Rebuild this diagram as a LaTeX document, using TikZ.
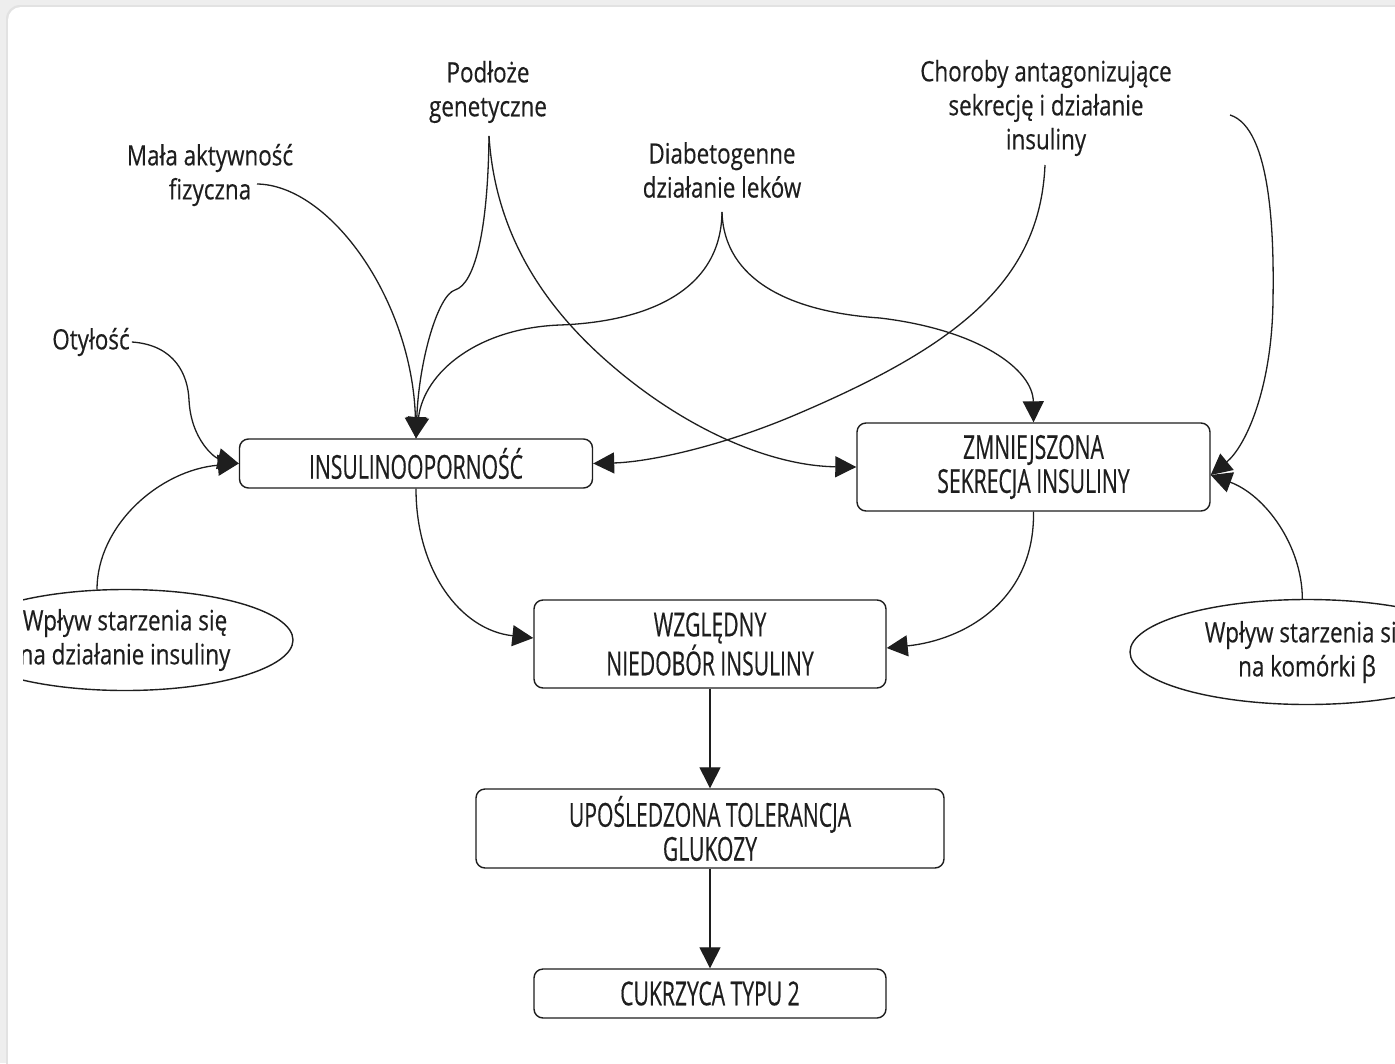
\documentclass[tikz,border=0pt]{standalone}
\usepackage{fontspec}
\setmainfont[FakeStretch=0.64,FakeBold=0.35]{Open Sans}
\newfontfamily\labfont[FakeStretch=0.8,FakeBold=0.35]{Open Sans}
\usetikzlibrary{arrows.meta,shapes.geometric,calc}
\definecolor{bggray}{RGB}{238,238,238}
\definecolor{rimgray}{RGB}{226,226,226}
\definecolor{ink}{RGB}{30,30,30}
\begin{document}
\begin{tikzpicture}[x=1pt,y=-1pt,
  conn/.style={line width=1.3pt, draw=ink, -{Triangle[length=21pt,width=21pt]}},
  box/.style={draw=ink, line width=1.4pt, rounded corners=9pt, fill=white, align=center,
              font=\fontsize{33}{34}\selectfont, text=ink, inner sep=0pt},
  lab/.style={align=center, font=\labfont\fontsize{28}{34}\selectfont, text=ink, inner sep=2pt},
  ell/.style={draw=ink, line width=1.4pt, ellipse, align=center,
              font=\labfont\fontsize{28}{34}\selectfont, text=ink, inner sep=0pt}]
\useasboundingbox (0,0) rectangle (1395,1063);
% background card
\fill[bggray] (0,0) rectangle (1395,1063);
\fill[rimgray, rounded corners=14pt] (6,5) rectangle (1420,1090);
\fill[white, rounded corners=13pt] (8,7) rectangle (1420,1090);

% boxes
\node[box, minimum width=353pt, minimum height=49pt] (ins) at (416,463.5) {INSULINOOPORNOŚĆ};
\node[box, minimum width=353pt, minimum height=88pt] (zmn) at (1033.5,467) {ZMNIEJSZONA\\SEKRECJA INSULINY};
\node[box, minimum width=352pt, minimum height=88pt] (wzg) at (710,644) {WZGLĘDNY\\NIEDOBÓR INSULINY};
\node[box, minimum width=468pt, minimum height=79pt] (upo) at (710,828.5) {UPOŚLEDZONA TOLERANCJA\\GLUKOZY};
\node[box, minimum width=352pt, minimum height=49pt] (cuk) at (710,993.5) {CUKRZYCA TYPU 2};

% ellipses (cropped at the picture edges)
\begin{scope}
\clip (23,0) rectangle (1395,1063);
\node[ell, minimum width=336pt, minimum height=101pt] (lel) at (125,640) {Wpływ starzenia się\\na działanie insuliny};
\node[ell, minimum width=354pt, minimum height=105pt] (rel) at (1307,652) {Wpływ starzenia się\\na komórki β};
\end{scope}

% labels
\node[lab] (oty) at (91,342) {Otyłość};
\node[lab] (mala) at (210,175) {Mała aktywność\\fizyczna};
\node[lab] (pod) at (488,92) {Podłoże\\genetyczne};
\node[lab] (dia) at (722,170) {Diabetogenne\\działanie leków};
\node[lab] (cho) at (1046,108) {Choroby antagonizujące\\sekrecję i działanie\\insuliny};

% connector start points
\coordinate (mala-o) at (257,184);
\coordinate (pod-o) at (489,136);
\coordinate (dia-o) at (722,212);
\coordinate (cho-o) at (1045,165);
\coordinate (r-o) at (1230,115);

% connectors
\draw[conn] (oty.east) .. controls (175,345) and (188,375) .. (189,400)
   .. controls (191,440) and (215,458) .. (ins.west);
\draw[conn] (lel.119) .. controls (97,525) and (160,470) .. (ins.west);
\draw[conn] (mala-o) .. controls (330,185) and (412,300) .. (ins.north);
\draw[conn] (pod-o) .. controls (488,230) and (475,284) .. (455,290)
   .. controls (438,295) and (419,360) .. (ins.north);
\draw[conn] (pod-o) .. controls (495,230) and (540,300) .. (600,355)
   .. controls (680,428) and (770,466) .. (zmn.west);
\draw[conn] (dia-o) .. controls (721,295) and (640,322) .. (560,325)
   .. controls (478,328) and (424,372) .. (ins.north);
\draw[conn] (dia-o) .. controls (724,280) and (790,312) .. (880,318)
   .. controls (980,330) and (1033,370) .. (zmn.north);
\draw[conn] (cho-o) .. controls (1040,280) and (960,345) .. (795,415)
   .. controls (722,446) and (650,462) .. (ins.east);
\draw[conn] (r-o) .. controls (1272,128) and (1274,240) .. (1273,300)
   .. controls (1272,390) and (1245,447) .. ($(zmn.east)+(0,8)$);
\draw[conn] (rel.95) .. controls (1302,545) and (1265,495) .. ($(zmn.east)+(0,8)$);
\draw[conn] (ins.south) .. controls (416,570) and (460,630) .. ($(wzg.west)+(0,-6)$);
\draw[conn] (zmn.south) .. controls (1035,600) and (965,640) .. ($(wzg.east)+(0,4)$);
\draw[conn] (wzg.south) -- (upo.north);
\draw[conn] (upo.south) -- (cuk.north);
\end{tikzpicture}
\end{document}
